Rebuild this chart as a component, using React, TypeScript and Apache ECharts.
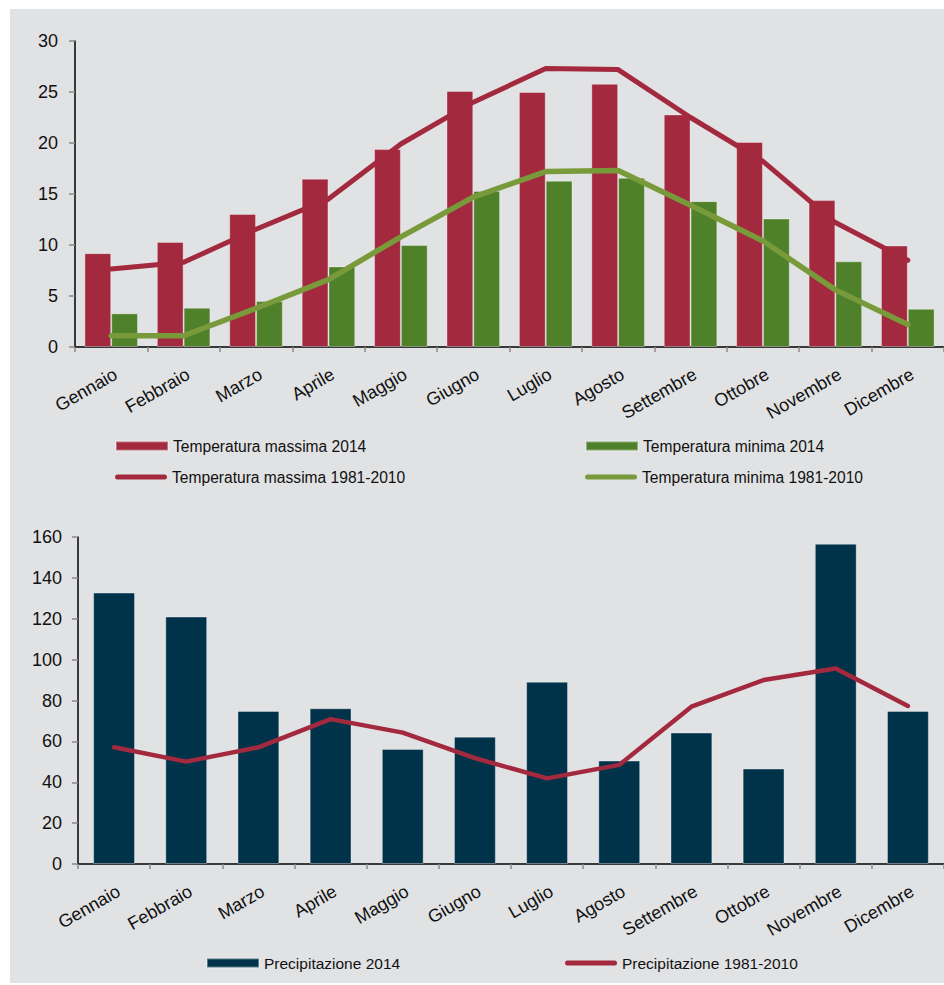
import React, { useEffect, useRef } from "react";
import * as echarts from "echarts";

const months = [
  "Gennaio", "Febbraio", "Marzo", "Aprile", "Maggio", "Giugno",
  "Luglio", "Agosto", "Settembre", "Ottobre", "Novembre", "Dicembre",
];
const tempTicks = [0, 30, 5];
const precTicks = [0, 160, 20];
const tmax2014 = [9.2, 10.3, 13.05, 16.5, 19.4, 25.1, 25.0, 25.8, 22.8, 20.1, 14.4, 9.95];
const tmin2014 = [3.3, 3.85, 4.5, 7.9, 10.0, 15.3, 16.3, 16.6, 14.3, 12.6, 8.4, 3.75];
const tmaxNorm = [7.65, 8.3, 11.55, 14.5, 19.9, 24.0, 27.3, 27.2, 22.5, 18.2, 12.2, 8.5];
const tminNorm = [1.1, 1.1, 3.8, 6.6, 10.8, 14.7, 17.2, 17.3, 13.9, 10.4, 5.6, 2.2];
const prec2014 = [132.8, 121.1, 74.9, 76.2, 56.3, 62.3, 89.2, 50.6, 64.3, 46.7, 156.7, 74.9];
const precNorm = [57.1, 50.1, 57.1, 70.9, 64.3, 51.8, 41.9, 48.5, 77.0, 90.0, 95.7, 77.3];

const RED = "#a3293f";
const GREEN_BAR = "#4f812b";
const GREEN_LINE = "#799a3b";
const NAVY = "#00324a";
const BG = "#e1e2e4";
const FONT = "Liberation Sans, Arial, sans-serif";

export default function App() {
  const ref = useRef<HTMLDivElement>(null);
  useEffect(() => {
    document.body.style.margin = "0";
    const chart = echarts.init(ref.current!, null, { renderer: "svg" });
    const xAxisCommon = (gridIndex: number) => ({
      type: "category" as const,
      gridIndex,
      data: months,
      boundaryGap: true,
      axisLine: { show: true, lineStyle: { color: "#000", width: 1.5 } },
      axisTick: { show: true, length: 5, lineStyle: { color: "#8a8a8a", width: 1.5 } },
      axisLabel: {
        rotate: 30,
        margin: 18,
        interval: 0,
        align: "right",
        verticalAlign: "top",
        fontSize: 18,
        fontFamily: FONT,
        color: "#111",
      },
      splitLine: { show: false },
    });
    const yAxisCommon = (gridIndex: number, t: number[], margin: number) => ({
      type: "value" as const,
      gridIndex,
      min: t[0],
      max: t[1],
      interval: t[2],
      axisLine: { show: true, lineStyle: { color: "#000", width: 1.5 } },
      axisTick: { show: true, length: 6, lineStyle: { color: "#8a8a8a", width: 1.5 } },
      axisLabel: { margin, fontSize: 18, fontFamily: FONT, color: "#111" },
      splitLine: { show: false },
    });
    const legend = (name: string, left: number, top: number, icon: string, h: number, fs: number) => ({
      data: [{ name, icon }],
      left,
      top,
      padding: 0,
      itemWidth: 52,
      itemHeight: h,
      selectedMode: false,
      textStyle: { fontSize: fs, fontFamily: FONT, color: "#111" },
    });
    const lineIcon = "path://M2.5,0 L49.5,0 A2.5,2.5 0 0 1 49.5,5 L2.5,5 A2.5,2.5 0 0 1 2.5,0 Z";
    chart.setOption({
      animation: false,
      backgroundColor: "#fff",
      graphic: [
        { type: "rect", shape: { x: 10, y: 9, width: 934, height: 974 }, style: { fill: BG }, z: -10, silent: true },
      ],
      grid: [
        { left: 75, top: 41, width: 878, height: 306 },
        { left: 78, top: 537, width: 875, height: 327 },
      ],
      xAxis: [xAxisCommon(0), xAxisCommon(1)],
      yAxis: [yAxisCommon(0, tempTicks, 17), yAxisCommon(1, precTicks, 16)],
      legend: [
        legend("Temperatura massima 2014", 115, 438, "rect", 9, 15.6),
        legend("Temperatura massima 1981-2010", 115, 469, lineIcon, 5, 15.6),
        legend("Temperatura minima 2014", 585, 438, "rect", 9, 15.6),
        legend("Temperatura minima 1981-2010", 585, 469, lineIcon, 5, 15.6),
        legend("Precipitazione 2014", 206, 955, "rect", 9, 15.5),
        legend("Precipitazione 1981-2010", 565, 955, lineIcon, 5, 15.5),
      ],
      series: [
        {
          name: "Temperatura massima 2014",
          type: "bar",
          xAxisIndex: 0,
          yAxisIndex: 0,
          data: tmax2014,
          barGap: "0%",
          barCategoryGap: "26%",
          itemStyle: { color: RED, borderColor: "rgba(255,255,255,0.35)", borderWidth: 1 },
          z: 2,
        },
        {
          name: "Temperatura minima 2014",
          type: "bar",
          xAxisIndex: 0,
          yAxisIndex: 0,
          data: tmin2014,
          barGap: "0%",
          barCategoryGap: "26%",
          itemStyle: { color: GREEN_BAR, borderColor: "rgba(255,255,255,0.35)", borderWidth: 1 },
          z: 2,
        },
        {
          name: "Temperatura massima 1981-2010",
          type: "line",
          xAxisIndex: 0,
          yAxisIndex: 0,
          data: tmaxNorm,
          symbol: "none",
          lineStyle: { color: RED, width: 5, cap: "round", join: "round" },
          itemStyle: { color: RED },
          z: 3,
        },
        {
          name: "Temperatura minima 1981-2010",
          type: "line",
          xAxisIndex: 0,
          yAxisIndex: 0,
          data: tminNorm,
          symbol: "none",
          lineStyle: { color: GREEN_LINE, width: 5.5, cap: "round", join: "round" },
          itemStyle: { color: GREEN_LINE },
          z: 3,
        },
        {
          name: "Precipitazione 2014",
          type: "bar",
          xAxisIndex: 1,
          yAxisIndex: 1,
          data: prec2014,
          barCategoryGap: "42%",
          itemStyle: { color: NAVY, borderColor: "rgba(255,255,255,0.35)", borderWidth: 1 },
          z: 2,
        },
        {
          name: "Precipitazione 1981-2010",
          type: "line",
          xAxisIndex: 1,
          yAxisIndex: 1,
          data: precNorm,
          symbol: "none",
          lineStyle: { color: RED, width: 4.5, cap: "round", join: "round" },
          itemStyle: { color: RED },
          z: 3,
        },
      ],
    });
    return () => chart.dispose();
  }, []);
  return <div ref={ref} style={{ width: 944, height: 985 }} />;
}
